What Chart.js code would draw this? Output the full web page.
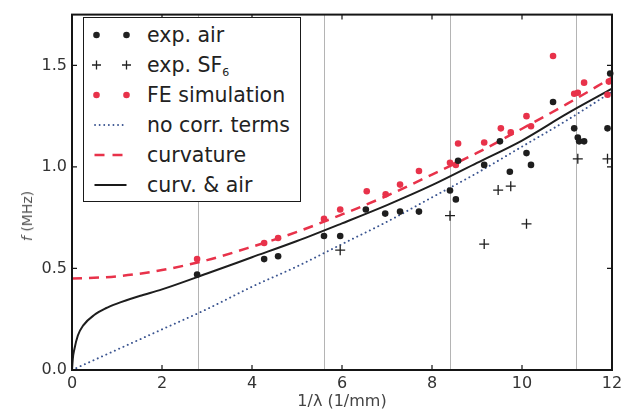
<!DOCTYPE html>
<html>
<head>
<meta charset="utf-8">
<script src="https://cdn.jsdelivr.net/npm/chart.js@4.4.0/dist/chart.umd.min.js"></script>
<style>
  body { margin: 0; background: #fff; }
  #wrap { position: relative; width: 641px; height: 414px; font-family: "DejaVu Sans", sans-serif; }
  #legend { position: absolute; left: 83px; top: 17px; width: 218px; height: 185px; box-sizing: border-box;
            border: 1.5px solid #1a1a1a; background: #fff; padding-top: 1.5px; }
  .row { height: 30px; position: relative; }
  .row svg { position: absolute; left: 0; top: 0; }
  .row span { position: absolute; left: 63px; top: 0; font-size: 20.5px; line-height: 30px; color: #222; white-space: nowrap; }
  .row sub { font-size: 11px; vertical-align: -4px; }
  #ytitle { position: absolute; left: 27px; top: 216px; transform: translate(-50%, -50%) rotate(-90deg);
            font-size: 14px; color: #555; white-space: nowrap; }
</style>
</head>
<body>
<div id="wrap">
  <canvas id="myChart" width="641" height="414"></canvas>
  <div id="ytitle"><i>f</i> (MHz)</div>
  <div id="legend">
    <div class="row"><svg width="60" height="30"><circle cx="12.5" cy="15" r="3.3" fill="#222"/><circle cx="42.5" cy="15" r="3.3" fill="#222"/></svg><span>exp. air</span></div>
    <div class="row"><svg width="60" height="30"><path d="M8 15h9M12.5 10.5v9M38 15h9M42.5 10.5v9" stroke="#222" stroke-width="1.3"/></svg><span>exp. SF<sub>6</sub></span></div>
    <div class="row"><svg width="60" height="30"><circle cx="12.5" cy="15" r="3.3" fill="#e8324a"/><circle cx="42.5" cy="15" r="3.3" fill="#e8324a"/></svg><span>FE simulation</span></div>
    <div class="row"><svg width="60" height="30"><line x1="11" y1="15" x2="43" y2="15" stroke="#3a5490" stroke-width="1.8" stroke-dasharray="0.1 4.5" stroke-linecap="round"/></svg><span>no corr. terms</span></div>
    <div class="row"><svg width="60" height="30"><line x1="10.5" y1="15" x2="42.5" y2="15" stroke="#e8324a" stroke-width="2.5" stroke-dasharray="10 8"/></svg><span>curvature</span></div>
    <div class="row"><svg width="60" height="30"><line x1="10.5" y1="15" x2="42.5" y2="15" stroke="#1a1a1a" stroke-width="2"/></svg><span>curv. &amp; air</span></div>
  </div>
</div>
<script>
// measured points, 1/lambda (1/mm) and f (MHz)
const airX = [2.78, 4.27, 4.58, 5.6, 5.96, 6.53, 6.96, 7.29, 7.71, 8.4, 8.53, 8.58, 9.16, 9.51, 9.73, 10.1, 10.2, 10.69, 11.16, 11.24, 11.27, 11.38, 11.9, 11.96];
const airF = [0.47, 0.546, 0.56, 0.66, 0.66, 0.79, 0.77, 0.78, 0.78, 0.884, 0.84, 1.03, 1.01, 1.126, 0.976, 1.068, 1.01, 1.32, 1.19, 1.145, 1.126, 1.126, 1.19, 1.46];

const sf6X = [5.96, 8.4, 9.16, 9.47, 9.75, 10.1, 11.24, 11.9];
const sf6F = [0.59, 0.76, 0.62, 0.886, 0.905, 0.72, 1.04, 1.04];

const feX = [2.78, 4.27, 4.58, 5.6, 5.96, 6.55, 6.97, 7.29, 7.71, 8.4, 8.53, 8.58, 9.16, 9.53, 9.75, 10.1, 10.2, 10.69, 11.16, 11.24, 11.38, 11.9, 11.93];
const feF = [0.546, 0.625, 0.65, 0.744, 0.79, 0.88, 0.865, 0.913, 0.98, 1.02, 1.01, 1.115, 1.12, 1.19, 1.17, 1.25, 1.2, 1.546, 1.36, 1.365, 1.415, 1.355, 1.42];

// model curves
const lamX = [0, 1, 2, 3, 4, 5, 6, 7, 8, 9, 10, 11, 12];
const noCorrF = [0, 0.10, 0.20, 0.30, 0.41, 0.51, 0.62, 0.73, 0.85, 0.97, 1.10, 1.23, 1.37];
const curvF = [0.45, 0.461, 0.492, 0.541, 0.607, 0.68, 0.766, 0.858, 0.962, 1.069, 1.188, 1.31, 1.44];

const airCurveX = [0, 0.02, 0.05, 0.13, 0.25, 0.5, 0.75, 1, 1.5, 2, 3, 4, 5, 6, 7, 8, 9, 10, 11, 12];
const airCurveF = [0, 0.06, 0.1, 0.17, 0.22, 0.272, 0.304, 0.327, 0.364, 0.397, 0.475, 0.555, 0.635, 0.722, 0.812, 0.91, 1.02, 1.13, 1.262, 1.385];

const refLines = [2.8, 5.6, 8.4, 11.2];
const xTicks = [0, 2, 4, 6, 8, 10, 12];
const yTicks = [0, 0.5, 1.0, 1.5];

const red = '#e8324a';
const dark = '#1e1e1e';
const blue = '#3a5490';

function pts(xs, ys) {
  return xs.map(function(x, i) { return {x: x, y: ys[i]}; });
}

// grey reference lines, frame and inward ticks
const framePlugin = {
  id: 'frame',
  beforeDatasetsDraw: function(chart) {
    const c = chart.ctx, a = chart.chartArea, xs = chart.scales.x;
    c.save();
    c.strokeStyle = '#b4b4b4';
    c.lineWidth = 1;
    for (const v of refLines) {
      const px = Math.round(xs.getPixelForValue(v)) + 0.5;
      c.beginPath(); c.moveTo(px, a.top); c.lineTo(px, a.bottom); c.stroke();
    }
    c.restore();
  },
  afterDatasetsDraw: function(chart) {
    const c = chart.ctx, a = chart.chartArea, xs = chart.scales.x, ys = chart.scales.y;
    c.save();
    c.strokeStyle = '#151515';
    c.lineWidth = 1.2;
    const t = 5;
    for (const v of xTicks) {
      const px = xs.getPixelForValue(v);
      c.beginPath(); c.moveTo(px, a.bottom); c.lineTo(px, a.bottom - t);
      c.moveTo(px, a.top); c.lineTo(px, a.top + t); c.stroke();
    }
    for (const v of yTicks) {
      const py = ys.getPixelForValue(v);
      c.beginPath(); c.moveTo(a.left, py); c.lineTo(a.left + t, py);
      c.moveTo(a.right, py); c.lineTo(a.right - t, py); c.stroke();
    }
    c.lineWidth = 2;
    c.strokeRect(a.left, a.top, a.right - a.left, a.bottom - a.top);
    c.restore();
  }
};

const ctx = document.getElementById('myChart').getContext('2d');

const chart = new Chart(ctx, {
  type: 'scatter',
  data: {
    datasets: [
      { label: 'exp. air', data: pts(airX, airF), pointRadius: 3.3, backgroundColor: dark, borderWidth: 0, clip: false },
      { label: 'exp. SF6', data: pts(sf6X, sf6F), pointStyle: 'cross', pointRadius: 5, borderColor: dark, borderWidth: 1.3, clip: false },
      { label: 'FE simulation', data: pts(feX, feF), pointRadius: 3.3, backgroundColor: red, borderWidth: 0, clip: false },
      { label: 'curv. & air', data: pts(airCurveX, airCurveF), showLine: true, pointRadius: 0,
        borderColor: dark, borderWidth: 2, cubicInterpolationMode: 'monotone' },
      { label: 'curvature', data: pts(lamX, curvF), showLine: true, pointRadius: 0,
        borderColor: red, borderWidth: 2.5, borderDash: [10, 7], cubicInterpolationMode: 'monotone' },
      { label: 'no corr. terms', data: pts(lamX, noCorrF), showLine: true, pointRadius: 0,
        borderColor: blue, borderWidth: 1.9, borderDash: [0.1, 4.6], borderCapStyle: 'round', cubicInterpolationMode: 'monotone' }
    ]
  },
  options: {
    responsive: false,
    animation: false,
    events: [],
    layout: { padding: { top: 7, right: 29, left: 0, bottom: 0 } },
    plugins: { legend: { display: false }, tooltip: { enabled: false } },
    scales: {
      x: {
        type: 'linear', min: 0, max: 12,
        afterBuildTicks: function(s) { s.ticks = xTicks.map(function(v) { return {value: v}; }); },
        afterFit: function(s) { s.height = 44; },
        grid: { display: false, drawTicks: false },
        border: { display: false },
        ticks: { padding: 4, color: '#333', font: { family: 'DejaVu Sans', size: 16 } },
        title: { display: true, text: '1/λ (1/mm)', color: '#444', font: { family: 'DejaVu Sans', size: 16 }, padding: { top: 0, bottom: 3 } }
      },
      y: {
        type: 'linear', min: 0, max: 1.75,
        afterBuildTicks: function(s) { s.ticks = yTicks.map(function(v) { return {value: v}; }); },
        afterFit: function(s) { s.width = 72; },
        grid: { display: false, drawTicks: false },
        border: { display: false },
        ticks: { padding: 5, color: '#333', font: { family: 'DejaVu Sans', size: 16 },
                 callback: function(v) { return v.toFixed(1); } }
      }
    }
  },
  plugins: [framePlugin]
});
</script>
</body>
</html>
